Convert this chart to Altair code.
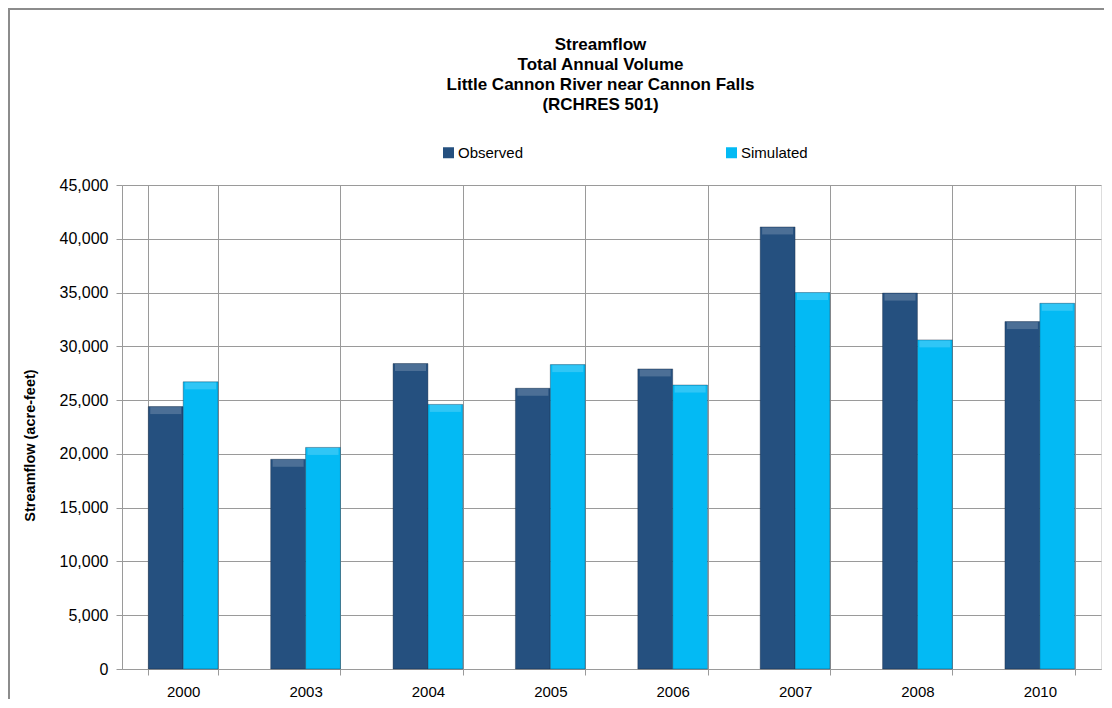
import altair as alt
import pandas as pd

years = ["2000", "2003", "2004", "2005", "2006", "2007", "2008", "2010"]
observed = [24400, 19500, 28400, 26100, 27900, 41100, 34950, 32300]
simulated = [26700, 20600, 24600, 28300, 26400, 35000, 30600, 34000]
series = ["Observed", "Simulated"]
colors = ["#25507F", "#03BAF4"]
title_lines = ["Streamflow", "Total Annual Volume",
               "Little Cannon River near Cannon Falls", "(RCHRES 501)"]
y_title = "Streamflow (acre-feet)"

rows = []
for i, yr in enumerate(years):
    rows.append({"Year": yr, "Series": series[0], "Value": observed[i]})
    rows.append({"Year": yr, "Series": series[1], "Value": simulated[i]})
df = pd.DataFrame(rows)

FONT = "Liberation Sans, Arial, sans-serif"
W, H = 979, 484

x_enc = alt.X("Year:N", sort=years, title=None,
              scale=alt.Scale(paddingInner=0.43, paddingOuter=0.215),
              axis=alt.Axis(tickBand="extent", labelAngle=0, grid=True,
                            gridColor="#9a9a9a", domainColor="#9a9a9a",
                            tickColor="#9a9a9a", tickSize=6, labelPadding=9,
                            labelFontSize=15, labelColor="#000", labelFont=FONT))
y_enc = alt.Y("Value:Q", title=y_title,
              scale=alt.Scale(domain=[0, 45000], nice=False),
              axis=alt.Axis(values=list(range(0, 45001, 5000)), format=",d",
                            gridColor="#9a9a9a", domainColor="#9a9a9a",
                            tickColor="#9a9a9a", tickSize=6, labelPadding=8,
                            labelFontSize=16, labelColor="#000", labelFont=FONT,
                            titleFont=FONT, titleFontSize=14.5, titleFontWeight="bold",
                            titleColor="#000", titleX=-92, titleY=260,
                            titleAngle=270, titleAlign="center", titleBaseline="middle"))

bars = alt.Chart(df).mark_bar(stroke="#10233a", strokeWidth=0.8, strokeOpacity=0.45).encode(
    x=x_enc,
    xOffset=alt.XOffset("Series:N", sort=series),
    y=y_enc,
    color=alt.Color("Series:N", sort=series,
                    scale=alt.Scale(domain=series, range=colors),
                    legend=alt.Legend(title=None, orient="none", legendX=319, legendY=-40,
                                      direction="horizontal", columnPadding=200,
                                      symbolType="square", symbolSize=121,
                                      symbolStrokeWidth=0, labelFontSize=15,
                                      labelFont=FONT, labelColor="#000",
                                      labelOffset=2, padding=0)),
)

bevel = alt.Chart(df).mark_tick(color="white", opacity=0.18, thickness=7, size=31, yOffset=4).encode(
    x=x_enc,
    xOffset=alt.XOffset("Series:N", sort=series),
    y=y_enc,
)

frame_df = pd.DataFrame({"k": [0]})
frame = alt.Chart(frame_df).mark_rect(fill=None, stroke="#8c8c8c", strokeWidth=2).encode(
    x=alt.value(-113), x2=alt.value(W + 40),
    y=alt.value(-176), y2=alt.value(H + 80),
)

chart = alt.layer(frame, bars, bevel).properties(
    width=W, height=H,
    title=alt.TitleParams(text=title_lines, anchor="middle", font=FONT, fontSize=17,
                          fontWeight="bold", color="#000", lineHeight=20, offset=-106, dx=-11),
    autosize=alt.AutoSizeParams(type="none"),
    padding={"left": 114, "top": 177, "right": 3, "bottom": 30},
).configure_view(stroke=None).configure(background="white")

chart.save("out.html", embed_options={"renderer": "svg", "actions": False})
